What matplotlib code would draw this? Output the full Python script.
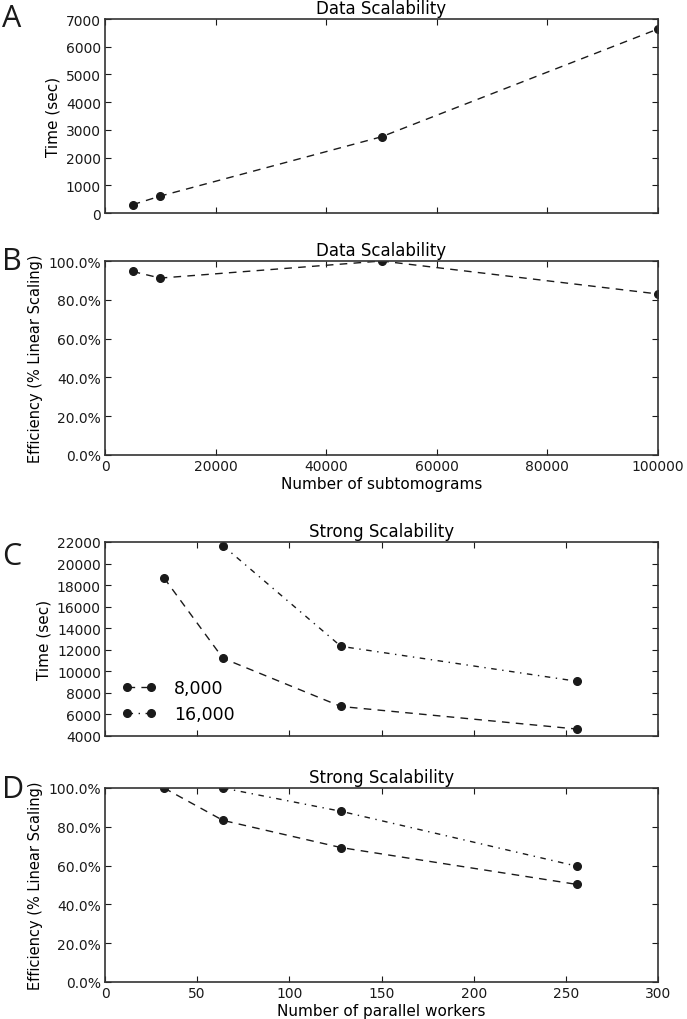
import matplotlib
matplotlib.use("Agg")
import matplotlib.pyplot as plt
from matplotlib.ticker import FuncFormatter, MultipleLocator

# ---- data ----
subtomograms = [5000, 10000, 50000, 100000]
data_time = [300, 610, 2750, 6640]
data_eff = [94.6, 91.2, 100.0, 83.0]

workers_8k = [32, 64, 128, 256]
time_8k = [18670, 11210, 6740, 4645]
eff_8k = [100.0, 83.3, 69.3, 50.3]

workers_16k = [64, 128, 256]
time_16k = [21660, 12320, 9080]
eff_16k = [100.0, 88.0, 59.7]

legend_labels = ["8,000", "16,000"]
panel_letters = ["A", "B", "C", "D"]

plt.rcParams['font.family'] = ['DejaVu Sans']
W, H = 687, 1020
fig = plt.figure(figsize=(W / 100, H / 100), dpi=100)

left = 105 / W
width = (658 - 105) / W
ph = 194 / H
tops = [20, 262, 543, 789]
axes = []
for t in tops:
    axes.append(fig.add_axes([left, 1 - (t + 194) / H, width, ph]))

dark = '#1a1a1a'
line_kw = dict(color=dark, marker='o', markersize=5.5, linewidth=1.0,
               markerfacecolor=dark, markeredgecolor=dark)
dash = (0, (5.5, 4.5))
dashdot = (0, (4, 4, 1, 4))

def style(ax):
    ax.tick_params(direction='in', top=True, right=True, length=4, width=0.8,
                   labelsize=10, colors=dark, pad=3)
    for s in ax.spines.values():
        s.set_color('#333333')
        s.set_linewidth(1.2)

pct = FuncFormatter(lambda v, p: f"{v:.1f}%")

# A
ax = axes[0]
ax.plot(subtomograms, data_time, linestyle=dash, **line_kw)
ax.set_xlim(0, 100000)
ax.set_ylim(0, 7000)
ax.yaxis.set_major_locator(MultipleLocator(1000))
ax.xaxis.set_major_locator(MultipleLocator(20000))
ax.set_ylabel("Time (sec)", fontsize=11)
ax.set_title("Data Scalability", fontsize=12, pad=4)
style(ax)
ax.tick_params(labelbottom=False)

# B
ax = axes[1]
ax.plot(subtomograms, data_eff, linestyle=dash, **line_kw)
ax.set_xlim(0, 100000)
ax.set_ylim(0, 100)
ax.yaxis.set_major_locator(MultipleLocator(20))
ax.yaxis.set_major_formatter(pct)
ax.xaxis.set_major_locator(MultipleLocator(20000))
ax.set_ylabel("Efficiency (% Linear Scaling)", fontsize=10.5)
ax.set_xlabel("Number of subtomograms", fontsize=11, labelpad=2)
ax.set_title("Data Scalability", fontsize=12, pad=4)
style(ax)

# C
ax = axes[2]
ax.plot(workers_8k, time_8k, linestyle=dash, label=legend_labels[0], **line_kw)
ax.plot(workers_16k, time_16k, linestyle=dashdot, label=legend_labels[1], **line_kw)
ax.set_xlim(0, 300)
ax.set_ylim(4000, 22000)
ax.yaxis.set_major_locator(MultipleLocator(2000))
ax.xaxis.set_major_locator(MultipleLocator(50))
ax.set_ylabel("Time (sec)", fontsize=11)
ax.set_title("Strong Scalability", fontsize=12, pad=4)
style(ax)
ax.tick_params(labelbottom=False)
ax.legend(loc='lower left', frameon=False, fontsize=12.5, numpoints=2,
          handlelength=2.0, handletextpad=1.0, labelspacing=0.45,
          borderpad=0.4, borderaxespad=0.0, bbox_to_anchor=(0.018, 0.03))

# D
ax = axes[3]
ax.plot(workers_8k, eff_8k, linestyle=dash, **line_kw)
ax.plot(workers_16k, eff_16k, linestyle=dashdot, **line_kw)
ax.set_xlim(0, 300)
ax.set_ylim(0, 100)
ax.yaxis.set_major_locator(MultipleLocator(20))
ax.yaxis.set_major_formatter(pct)
ax.xaxis.set_major_locator(MultipleLocator(50))
ax.set_ylabel("Efficiency (% Linear Scaling)", fontsize=10.5)
ax.set_xlabel("Number of parallel workers", fontsize=11, labelpad=2)
ax.set_title("Strong Scalability", fontsize=12, pad=4)
style(ax)

# panel letters
letter_y = [19, 262, 557, 790]
for L, y in zip(panel_letters, letter_y):
    fig.text(2 / W, 1 - y / H, L, fontsize=22, va='center', ha='left',
             color=dark, family=['Open Sans', 'DejaVu Sans'])

fig.savefig("out.png", dpi=100)
